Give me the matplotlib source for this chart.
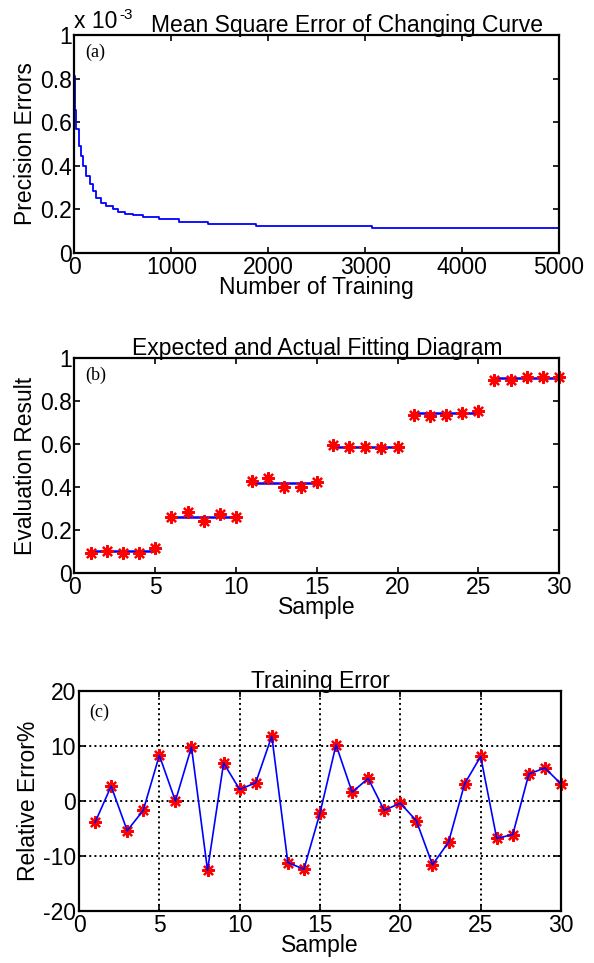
import matplotlib.pyplot as plt
from matplotlib.ticker import FormatStrFormatter

plt.rcParams['font.family'] = ['Liberation Sans', 'DejaVu Sans']
plt.rcParams['axes.unicode_minus'] = False

# (a) mean square error vs. training iterations (values in units of 1e-3)
train_iter = [0, 3, 17, 45, 69, 87, 121, 156, 191, 226, 278, 330, 399, 451,
              520, 607, 711, 868, 1076, 1374, 1878, 3065, 5000]
mse_e3 = [0.81, 0.654, 0.57, 0.49, 0.446, 0.40, 0.354, 0.315, 0.285, 0.254,
          0.231, 0.215, 0.20, 0.189, 0.18, 0.172, 0.165, 0.154, 0.143, 0.133,
          0.124, 0.115, 0.115]

# (b) expected vs. actual evaluation results
samples = list(range(1, 31))
expected_levels = [0.10, 0.26, 0.42, 0.588, 0.745, 0.905]
actual = [0.093, 0.101, 0.093, 0.093, 0.117,
          0.26, 0.285, 0.244, 0.272, 0.26,
          0.428, 0.44, 0.401, 0.401, 0.423,
          0.596, 0.586, 0.586, 0.579, 0.586,
          0.736, 0.728, 0.736, 0.745, 0.754,
          0.897, 0.897, 0.913, 0.913, 0.91]

# (c) relative training error in %
rel_error = [-3.9, 2.7, -5.4, -1.7, 8.3, 0.0, 9.8, -12.6, 6.9, 2.1,
             3.3, 11.8, -11.2, -12.4, -2.2, 10.2, 1.6, 4.1, -1.7, -0.4,
             -3.6, -11.6, -7.5, 3.1, 8.1, -6.8, -6.1, 4.9, 6.0, 3.1]

FS = 16.5
STAR = (8, 2, 0)  # matlab-like asterisk


def style_axes(ax):
    for s in ax.spines.values():
        s.set_linewidth(1.6)
    ax.tick_params(direction='in', top=True, right=True, length=4,
                   width=1.2, labelsize=FS, pad=2)


fig = plt.figure(figsize=(5.94, 9.63), dpi=100)

# ---- panel (a)
ax1 = fig.add_axes([0.1254, 0.7373, 0.8157, 0.2264])
ax1.plot(train_iter, mse_e3, color='blue', lw=1.3, drawstyle='steps-post')
ax1.set_xlim(0, 5000)
ax1.set_ylim(0, 1)
ax1.set_xticks(range(0, 5001, 1000))
ax1.set_yticks([0, 0.2, 0.4, 0.6, 0.8, 1])
ax1.yaxis.set_major_formatter(FormatStrFormatter('%g'))
ax1.set_xlabel('Number of Training', fontsize=FS, labelpad=-2)
ax1.set_ylabel('Precision Errors', fontsize=FS, labelpad=2)
ax1.set_title('Mean Square Error of Changing Curve', fontsize=FS,
              pad=2, x=0.562)
ax1.text(0.0, 1.01, 'x 10', transform=ax1.transAxes,
         fontsize=FS, ha='left', va='bottom')
ax1.text(0.093, 1.06, '-3', transform=ax1.transAxes,
         fontsize=11, ha='left', va='bottom')
ax1.text(0.022, 0.96, '(a)', transform=ax1.transAxes, fontsize=13,
         family='Liberation Serif', ha='left', va='top')
style_axes(ax1)

# ---- panel (b)
ax2 = fig.add_axes([0.1254, 0.4050, 0.8157, 0.2233])
for g, level in enumerate(expected_levels):
    xs = samples[g * 5:(g + 1) * 5]
    ax2.plot([xs[0], xs[-1]], [level, level], color='blue', lw=1.8)
ax2.plot(samples, actual, linestyle='none', marker=STAR, color='red',
         markersize=9, mew=1.6, clip_on=False)
ax2.set_xlim(0, 30)
ax2.set_ylim(0, 1)
ax2.set_xticks(range(0, 31, 5))
ax2.set_yticks([0, 0.2, 0.4, 0.6, 0.8, 1])
ax2.yaxis.set_major_formatter(FormatStrFormatter('%g'))
ax2.set_xlabel('Sample', fontsize=FS, labelpad=-2)
ax2.set_ylabel('Evaluation Result', fontsize=FS, labelpad=2)
ax2.set_title('Expected and Actual Fitting Diagram', fontsize=FS, pad=2)
ax2.text(0.022, 0.96, '(b)', transform=ax2.transAxes, fontsize=13,
         family='Liberation Serif', ha='left', va='top')
style_axes(ax2)

# ---- panel (c)
ax3 = fig.add_axes([0.133, 0.054, 0.8114, 0.2285])
ax3.plot(samples, rel_error, color='blue', lw=1.2, zorder=3)
ax3.plot(samples, rel_error, linestyle='none', marker=STAR, color='red',
         markersize=9, mew=1.6, zorder=2, clip_on=False)
ax3.set_xlim(0, 30)
ax3.set_ylim(-20, 20)
ax3.set_xticks(range(0, 31, 5))
ax3.set_yticks([-20, -10, 0, 10, 20])
ax3.grid(True, color='black', linestyle=':', linewidth=1.4)
ax3.set_axisbelow(True)
ax3.set_xlabel('Sample', fontsize=FS, labelpad=-2)
ax3.set_ylabel('Relative Error%', fontsize=FS, labelpad=2)
ax3.set_title('Training Error', fontsize=FS, pad=2)
ax3.text(0.022, 0.94, '(c)', transform=ax3.transAxes, fontsize=13,
         family='Liberation Serif', ha='left', va='top')
style_axes(ax3)

fig.savefig('out.png', dpi=100)
